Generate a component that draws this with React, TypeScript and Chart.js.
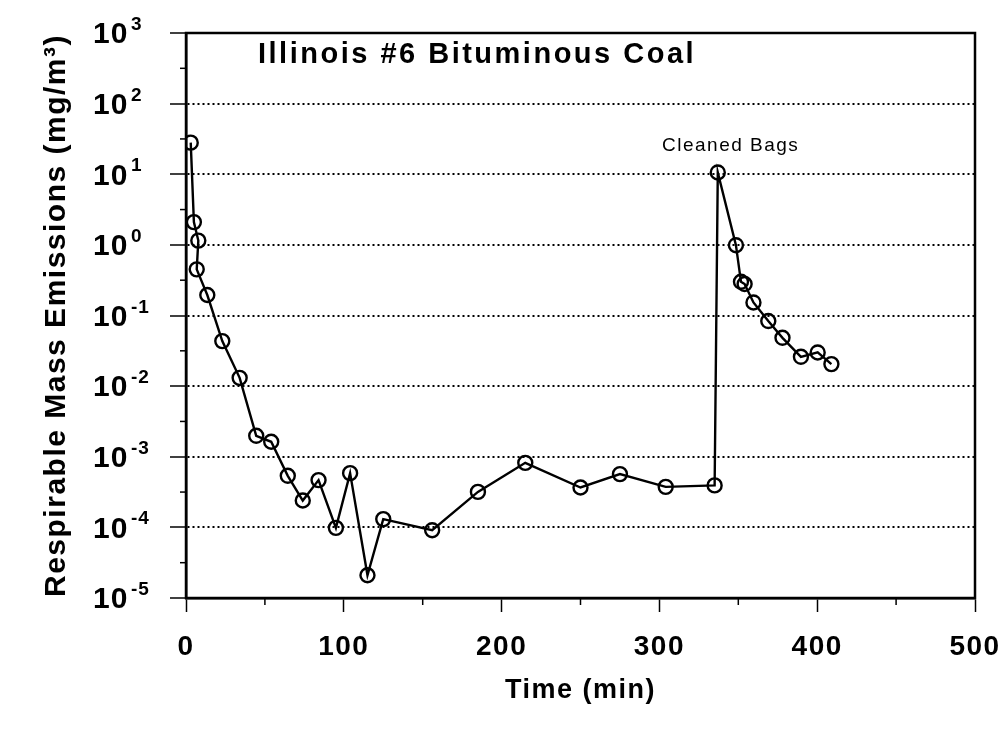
import React, { useEffect, useRef } from "react";
import { Chart, registerables } from "chart.js";

Chart.register(...registerables);

// ---- data ----
const timeMin: number[] = [
  3, 5, 7.8, 6.8, 13.5, 23, 34, 44.5, 54, 64.5, 74, 84, 95, 104, 115, 125,
  156, 185, 215, 250, 275, 304, 335, 337, 348.5, 351.7, 354, 359.6, 369, 378,
  389.7, 400.3, 409,
];
const emissions: number[] = [
  28, 2.1, 1.15, 0.45, 0.195, 0.0434, 0.0131, 0.00198, 0.00163, 0.000537,
  0.00024, 0.000467, 0.0000984, 0.000586, 0.000021, 0.000131, 0.0000912,
  0.000318, 0.00082, 0.000367, 0.000568, 0.000375, 0.000393, 10.6, 0.99,
  0.3, 0.279, 0.153, 0.0834, 0.0483, 0.026, 0.03, 0.0205,
];
const yExponents: number[] = [3, 2, 1, 0, -1, -2, -3, -4, -5];
const xTickValues: number[] = [0, 100, 200, 300, 400, 500];
const xMinorTicks: number[] = [50, 150, 250, 350, 450];
const chartTitle = "Illinois #6 Bituminous Coal";
const annotationText = "Cleaned Bags";
const xAxisTitle = "Time (min)";
const yAxisTitle = "Respirable Mass Emissions (mg/m³)";

const FONT = "'Liberation Sans', Arial, Helvetica, sans-serif";

const spacingPlugin = {
  id: "spacing",
  beforeDraw(chart: any) {
    (chart.ctx as any).letterSpacing = "1.5px";
  },
  afterDraw(chart: any) {
    (chart.ctx as any).letterSpacing = "0px";
  },
};

const decorPlugin = {
  id: "decor",
  afterDraw(chart: any) {
    const { ctx, chartArea, scales } = chart;
    const xs = scales.x;
    const ys = scales.y;
    ctx.save();
    ctx.strokeStyle = "#000";
    ctx.fillStyle = "#000";
    // frame
    ctx.lineWidth = 2.5;
    ctx.strokeRect(
      chartArea.left,
      chartArea.top,
      chartArea.right - chartArea.left,
      chartArea.bottom - chartArea.top
    );
    // minor x ticks
    ctx.lineWidth = 1.5;
    xMinorTicks.forEach((v) => {
      const px = xs.getPixelForValue(v);
      ctx.beginPath();
      ctx.moveTo(px, chartArea.bottom);
      ctx.lineTo(px, chartArea.bottom + 7);
      ctx.stroke();
    });
    // minor y ticks at half decades
    for (let k = -5; k < 3; k++) {
      const py = ys.getPixelForValue(Math.pow(10, k + 0.5));
      ctx.beginPath();
      ctx.moveTo(chartArea.left - 6, py);
      ctx.lineTo(chartArea.left, py);
      ctx.stroke();
    }
    // y tick labels with superscript exponents
    (ctx as any).letterSpacing = "1px";
    yExponents.forEach((e) => {
      const py = ys.getPixelForValue(Math.pow(10, e));
      ctx.font = `bold 30px ${FONT}`;
      ctx.textAlign = "left";
      ctx.textBaseline = "middle";
      ctx.fillText("10", 93, py + 2);
      ctx.font = `bold 19px ${FONT}`;
      ctx.textBaseline = "alphabetic";
      ctx.fillText(e < 0 ? "-" + Math.abs(e) : String(e), 131, py - 3);
    });
    // chart title inside the plot
    (ctx as any).letterSpacing = "2.5px";
    ctx.font = `bold 29px ${FONT}`;
    ctx.textAlign = "left";
    ctx.textBaseline = "alphabetic";
    ctx.fillText(chartTitle, 258, 63);
    // annotation
    (ctx as any).letterSpacing = "1.5px";
    ctx.font = `19px ${FONT}`;
    ctx.fillText(annotationText, 662, 151);
    ctx.restore();
  },
};

export default function App() {
  const canvasRef = useRef<HTMLCanvasElement | null>(null);

  useEffect(() => {
    document.body.style.margin = "0";
    const canvas = canvasRef.current;
    if (!canvas) return;
    const chart = new Chart(canvas, {
      type: "line",
      data: {
        datasets: [
          {
            data: timeMin.map((t, i) => ({ x: t, y: emissions[i] })),
            borderColor: "#000",
            borderWidth: 2.4,
            pointRadius: 7,
            pointBorderWidth: 2.4,
            pointBorderColor: "#000",
            pointBackgroundColor: "rgba(0,0,0,0)",
            tension: 0,
            fill: false,
          },
        ],
      },
      options: {
        responsive: false,
        animation: false,
        events: [],
        layout: { padding: { left: 0, right: 31, top: 33, bottom: 0 } },
        plugins: {
          legend: { display: false },
          tooltip: { enabled: false },
          title: { display: false },
        },
        scales: {
          x: {
            type: "linear",
            min: 0,
            max: 500,
            afterBuildTicks: (scale: any) => {
              scale.ticks = xTickValues.map((v) => ({ value: v }));
            },
            afterFit: (scale: any) => {
              scale.height = 131;
              scale.paddingLeft = 0;
              scale.paddingRight = 0;
            },
            ticks: {
              autoSkip: false,
              maxRotation: 0,
              padding: 18,
              color: "#000",
              font: { family: FONT, size: 28, weight: "bold" },
            },
            grid: {
              drawOnChartArea: false,
              drawTicks: true,
              tickLength: 14,
              tickColor: "#000",
              tickWidth: 1.5,
            },
            border: { display: true, color: "#000", width: 2.5 },
            title: {
              display: true,
              text: xAxisTitle,
              color: "#000",
              font: { family: FONT, size: 27, weight: "bold" },
              padding: { top: 0, bottom: 22 },
            },
          },
          y: {
            type: "logarithmic",
            min: 1e-5,
            max: 1e3,
            afterBuildTicks: (scale: any) => {
              scale.ticks = yExponents.map((e) => ({ value: Math.pow(10, e) }));
            },
            afterFit: (scale: any) => {
              scale.width = 186;
              scale.paddingTop = 0;
              scale.paddingBottom = 0;
            },
            ticks: {
              autoSkip: false,
              callback: () => "",
            },
            grid: {
              color: "#000",
              lineWidth: 2,
              drawTicks: true,
              tickLength: 16,
              tickColor: "#000",
              tickWidth: 1.5,
              tickBorderDash: [],
            },
            border: { display: true, color: "#000", width: 2.5, dash: [2, 3] },
            title: {
              display: true,
              text: yAxisTitle,
              color: "#000",
              font: { family: FONT, size: 30, weight: "bold" },
              padding: { top: 39, bottom: 0 },
            },
          },
        },
      } as any,
      plugins: [spacingPlugin, decorPlugin],
    });
    return () => chart.destroy();
  }, []);

  return (
    <canvas
      ref={canvasRef}
      width={1006}
      height={729}
      style={{ display: "block", width: 1006, height: 729 }}
    />
  );
}
